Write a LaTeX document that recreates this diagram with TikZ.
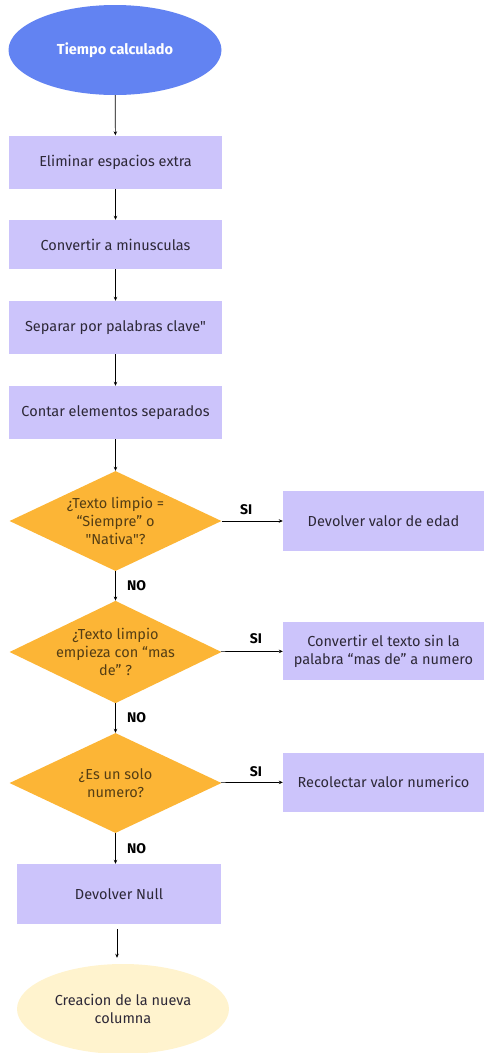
\documentclass[tikz,border=0pt]{standalone}
\usepackage{fontspec}
\setmainfont{Fira Sans}[Ligatures=TeXOff]
\usetikzlibrary{shapes.geometric,arrows.meta}
\definecolor{azul}{RGB}{98,131,242}
\definecolor{lila}{RGB}{204,196,251}
\definecolor{naranja}{RGB}{252,181,54}
\definecolor{crema}{RGB}{255,243,206}
\definecolor{texto}{RGB}{45,40,55}
\definecolor{textoDec}{RGB}{85,62,20}

\begin{document}
\begin{tikzpicture}[
            x=1pt, y=-1pt,
            font=\fontsize{14.5}{18}\selectfont,
            Inicio/.style={ellipse, fill=azul, text=white, font=\fontsize{14.5}{18}\selectfont\bfseries,
                minimum width=213pt, minimum height=90pt},
            Fin/.style={ellipse, fill=crema, text=texto, align=center, inner sep=0pt,
                minimum width=212pt, minimum height=90pt},
            Proceso/.style={rectangle, fill=lila, text=texto, align=center,
                minimum width=213pt, minimum height=53pt},
            Salida/.style={rectangle, fill=lila, text=texto, align=center,
                minimum width=201pt, minimum height=60pt},
            Decision/.style={diamond, fill=naranja, text=textoDec, align=center, inner sep=-16pt,
                minimum width=212pt, minimum height=100pt},
            Flecha/.style={-{Stealth[length=4pt,width=3.5pt]}, line width=0.7pt, black},
            Etiqueta/.style={font=\fontsize{14}{17}\selectfont\bfseries, text=black},
        ]
        \useasboundingbox (0,0) rectangle (484,1053);

        \node[Inicio] (inicio) at (115,50) {Tiempo calculado};
        \node[Proceso] (espacios) at (115.5,162) {Eliminar espacios extra};
        \node[Proceso, minimum height=49pt] (minus) at (115.5,244.5) {Convertir a minusculas};
        \node[Proceso] (separar) at (115.5,327.5) {Separar por palabras clave"};
        \node[Proceso] (contar) at (115.5,412.5) {Contar elementos separados};

        \node[Decision] (dec1) at (115.5,521) {¿Texto limpio =\\“Siempre” o\\"Nativa"?};
        \node[Salida] (edad) at (383.5,521) {Devolver valor de edad};

        \node[Decision] (dec2) at (115.5,652) {¿Texto limpio\\empieza con “mas\\de” ?};
        \node[Salida, minimum height=58pt] (convertir) at (383.5,651) {Convertir el texto sin la\\palabra “mas de” a numero};

        \node[Decision] (dec3) at (115.5,783) {¿Es un solo\\numero?};
        \node[Salida, minimum height=59pt] (recolectar) at (383.5,782) {Recolectar valor numerico};

        \node[Proceso, minimum width=204pt, minimum height=60pt] (null) at (119,894) {Devolver Null};
        \node[Fin] (fin) at (123,1009) {Creacion de la nueva\\columna};

        \draw[Flecha] (inicio) -- (espacios);
        \draw[Flecha] (espacios) -- (minus);
        \draw[Flecha] (minus) -- (separar);
        \draw[Flecha] (separar) -- (contar);
        \draw[Flecha] (contar) -- (dec1);

        \draw[Flecha] (dec1) -- node[Etiqueta, above=3pt, xshift=-6pt] {SI} (edad);
        \draw[Flecha] (dec1) -- node[Etiqueta, right, xshift=8pt] {NO} (dec2);
        \draw[Flecha] (dec2) -- node[Etiqueta, above=4pt, xshift=4pt] {SI} (convertir);
        \draw[Flecha] (dec2) -- node[Etiqueta, right, xshift=8pt] {NO} (dec3);
        \draw[Flecha] (dec3) -- node[Etiqueta, above=2pt, xshift=4pt] {SI} (recolectar);
        \draw[Flecha] (dec3.south) -- node[Etiqueta, right, xshift=8pt] {NO} (dec3.south |- null.north);
        \draw[Flecha, shorten <=5pt, shorten >=6pt] ([xshift=-2pt]null.south) -- ([xshift=-2pt]null.south |- fin.north);
\end{tikzpicture}
\end{document}
